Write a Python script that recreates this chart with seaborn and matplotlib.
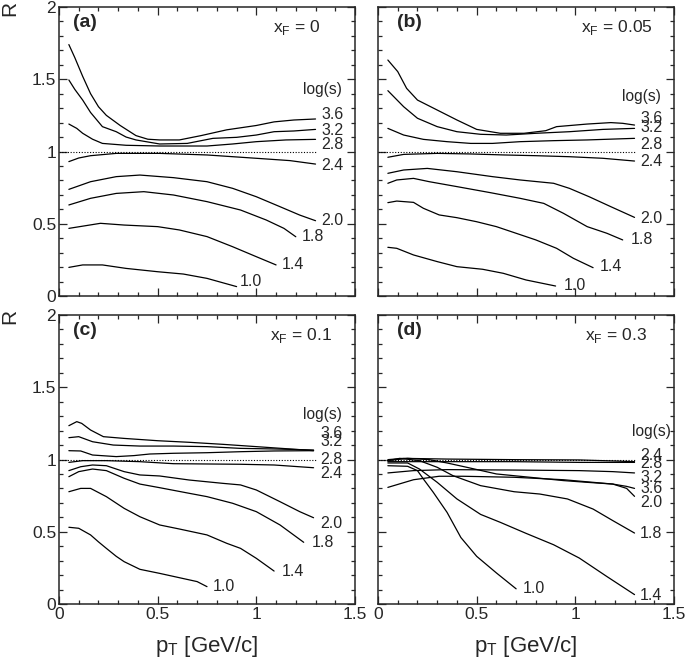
import numpy as np
import pandas as pd
import seaborn as sns
import matplotlib
matplotlib.use("Agg")
import matplotlib.pyplot as plt
from matplotlib.ticker import MultipleLocator, FuncFormatter

sns.set_theme(style="ticks")
plt.rcParams['font.family'] = ['Liberation Sans', 'DejaVu Sans']
plt.rcParams['mathtext.fontset'] = 'custom'
plt.rcParams['mathtext.rm'] = 'Liberation Sans'

# ratio R vs pT, one dict per panel: log(s) -> (pT, R)
curves_a = {
    "3.6": ([0.05, 0.08, 0.12, 0.16, 0.20, 0.24, 0.31, 0.39, 0.45, 0.51, 0.61, 0.72, 0.85, 1.0, 1.09, 1.19, 1.30],
            [1.74, 1.65, 1.52, 1.40, 1.31, 1.25, 1.18, 1.11, 1.085, 1.08, 1.08, 1.11, 1.15, 1.18, 1.205, 1.218, 1.225]),
    "3.2": ([0.05, 0.08, 0.12, 0.16, 0.22, 0.29, 0.34, 0.39, 0.51, 0.65, 0.78, 0.90, 1.0, 1.09, 1.19, 1.30],
            [1.495, 1.43, 1.356, 1.27, 1.172, 1.137, 1.10, 1.080, 1.052, 1.056, 1.091, 1.098, 1.114, 1.137, 1.142, 1.153]),
    "2.8": ([0.05, 0.09, 0.12, 0.17, 0.22, 0.34, 0.51, 0.75, 0.88, 1.0, 1.15, 1.30],
            [1.19, 1.16, 1.126, 1.085, 1.056, 1.043, 1.038, 1.038, 1.052, 1.068, 1.08, 1.084]),
    "2.4": ([0.05, 0.10, 0.16, 0.29, 0.51, 0.75, 1.0, 1.17, 1.30],
            [0.93, 0.955, 0.971, 0.987, 0.987, 0.976, 0.953, 0.937, 0.913]),
    "2.0": ([0.05, 0.16, 0.29, 0.41, 0.58, 0.75, 0.88, 1.0, 1.12, 1.22, 1.30],
            [0.738, 0.791, 0.826, 0.837, 0.819, 0.791, 0.745, 0.687, 0.618, 0.56, 0.521]),
    "1.8": ([0.05, 0.16, 0.29, 0.43, 0.58, 0.75, 0.92, 1.05, 1.14, 1.20],
            [0.63, 0.676, 0.71, 0.722, 0.699, 0.653, 0.595, 0.526, 0.468, 0.41]),
    "1.4": ([0.05, 0.21, 0.33, 0.50, 0.61, 0.75, 0.88, 1.0, 1.10],
            [0.468, 0.503, 0.491, 0.48, 0.457, 0.411, 0.341, 0.272, 0.215]),
    "1.0": ([0.05, 0.12, 0.22, 0.34, 0.50, 0.63, 0.75, 0.90],
            [0.198, 0.215, 0.215, 0.191, 0.168, 0.152, 0.122, 0.065]),
}
curves_b = {
    "3.6": ([0.05, 0.10, 0.145, 0.20, 0.30, 0.40, 0.50, 0.62, 0.74, 0.85, 0.905, 1.06, 1.18, 1.24, 1.30],
            [1.633, 1.553, 1.437, 1.356, 1.287, 1.218, 1.153, 1.126, 1.126, 1.144, 1.172, 1.19, 1.20, 1.195, 1.183]),
    "3.2": ([0.05, 0.13, 0.20, 0.30, 0.40, 0.52, 0.65, 0.80, 0.97, 1.14, 1.30],
            [1.421, 1.31, 1.23, 1.172, 1.137, 1.119, 1.114, 1.126, 1.137, 1.153, 1.16]),
    "2.8": ([0.05, 0.13, 0.23, 0.35, 0.47, 0.58, 0.72, 0.89, 1.06, 1.30],
            [1.16, 1.114, 1.084, 1.068, 1.056, 1.056, 1.068, 1.075, 1.08, 1.091]),
    "2.4": ([0.05, 0.13, 0.30, 0.47, 0.64, 0.80, 0.97, 1.14, 1.30],
            [0.96, 0.98, 0.987, 0.983, 0.976, 0.971, 0.964, 0.953, 0.934]),
    "2.0": ([0.05, 0.13, 0.25, 0.40, 0.58, 0.72, 0.89, 0.97, 1.07, 1.18, 1.30],
            [0.849, 0.872, 0.883, 0.86, 0.826, 0.803, 0.78, 0.745, 0.687, 0.618, 0.544]),
    "1.8": ([0.05, 0.095, 0.18, 0.26, 0.40, 0.57, 0.72, 0.84, 0.94, 1.06, 1.16, 1.24],
            [0.78, 0.803, 0.814, 0.791, 0.757, 0.715, 0.676, 0.641, 0.572, 0.48, 0.434, 0.388]),
    "1.4": ([0.05, 0.095, 0.18, 0.23, 0.31, 0.40, 0.50, 0.60, 0.70, 0.80, 0.905, 0.99, 1.09],
            [0.646, 0.657, 0.648, 0.607, 0.561, 0.542, 0.514, 0.48, 0.434, 0.388, 0.33, 0.261, 0.196]),
    "1.0": ([0.05, 0.095, 0.18, 0.30, 0.40, 0.53, 0.635, 0.75, 0.90],
            [0.337, 0.33, 0.284, 0.238, 0.203, 0.185, 0.157, 0.111, 0.069]),
}
curves_c = {
    "3.6": ([0.05, 0.09, 0.115, 0.16, 0.225, 0.33, 0.50, 0.66, 0.83, 1.0, 1.17, 1.29],
            [1.234, 1.262, 1.25, 1.204, 1.158, 1.146, 1.13, 1.119, 1.105, 1.089, 1.073, 1.061]),
    "3.2": ([0.05, 0.10, 0.17, 0.275, 0.41, 0.58, 0.75, 0.92, 1.09, 1.29],
            [1.151, 1.158, 1.123, 1.10, 1.093, 1.093, 1.089, 1.077, 1.073, 1.066]),
    "2.8": ([0.05, 0.11, 0.17, 0.29, 0.38, 0.46, 0.58, 0.75, 0.92, 1.09, 1.29],
            [1.061, 1.059, 1.031, 1.02, 1.027, 1.038, 1.043, 1.047, 1.054, 1.059, 1.061]),
    "2.4": ([0.05, 0.12, 0.24, 0.41, 0.58, 0.75, 0.92, 1.09, 1.29],
            [0.98, 0.992, 0.992, 0.985, 0.971, 0.969, 0.967, 0.962, 0.943]),
    "2.0": ([0.05, 0.11, 0.17, 0.24, 0.33, 0.41, 0.51, 0.66, 0.83, 0.92, 1.0, 1.12, 1.22, 1.29],
            [0.923, 0.95, 0.962, 0.957, 0.916, 0.893, 0.886, 0.858, 0.835, 0.824, 0.789, 0.708, 0.639, 0.597]),
    "1.8": ([0.05, 0.10, 0.17, 0.24, 0.33, 0.41, 0.51, 0.66, 0.75, 0.88, 1.0, 1.12, 1.24],
            [0.881, 0.916, 0.934, 0.923, 0.87, 0.83, 0.805, 0.766, 0.743, 0.697, 0.639, 0.547, 0.427]),
    "1.4": ([0.05, 0.11, 0.16, 0.24, 0.33, 0.41, 0.51, 0.61, 0.75, 0.85, 0.92, 1.0, 1.09],
            [0.777, 0.80, 0.80, 0.743, 0.662, 0.604, 0.547, 0.519, 0.478, 0.42, 0.385, 0.316, 0.228]),
    "1.0": ([0.05, 0.10, 0.16, 0.20, 0.24, 0.29, 0.33, 0.41, 0.51, 0.61, 0.70, 0.75],
            [0.531, 0.524, 0.478, 0.43, 0.385, 0.33, 0.293, 0.24, 0.212, 0.182, 0.155, 0.12]),
}
curves_d = {
    "2.4": ([0.05, 0.13, 0.35, 0.69, 1.02, 1.19, 1.30],
            [0.999, 1.008, 1.003, 0.999, 0.997, 0.99, 0.985]),
    "2.8": ([0.05, 0.26, 0.69, 1.02, 1.30],
            [0.985, 0.985, 0.985, 0.98, 0.98]),
    "3.2": ([0.05, 0.18, 0.35, 0.69, 1.02, 1.19, 1.30],
            [0.907, 0.923, 0.93, 0.927, 0.923, 0.916, 0.907]),
    "3.6": ([0.05, 0.18, 0.31, 0.43, 0.69, 0.94, 1.09, 1.19, 1.26, 1.30],
            [0.807, 0.86, 0.884, 0.884, 0.877, 0.86, 0.842, 0.83, 0.814, 0.80]),
    "2.0": ([0.05, 0.15, 0.26, 0.35, 0.45, 0.60, 0.77, 0.94, 1.06, 1.19, 1.26, 1.30],
            [0.992, 1.008, 0.999, 0.976, 0.946, 0.90, 0.877, 0.854, 0.842, 0.83, 0.80, 0.745]),
    "1.8": ([0.05, 0.11, 0.21, 0.30, 0.38, 0.52, 0.69, 0.82, 0.96, 1.09, 1.19, 1.30],
            [0.992, 1.008, 0.992, 0.946, 0.888, 0.819, 0.777, 0.761, 0.727, 0.657, 0.577, 0.491]),
    "1.4": ([0.05, 0.15, 0.21, 0.30, 0.40, 0.52, 0.62, 0.75, 0.89, 1.02, 1.16, 1.30],
            [0.976, 0.976, 0.934, 0.842, 0.727, 0.62, 0.565, 0.489, 0.41, 0.318, 0.19, 0.065]),
    "1.0": ([0.05, 0.15, 0.20, 0.23, 0.28, 0.35, 0.42, 0.50, 0.60, 0.70],
            [0.957, 0.953, 0.923, 0.865, 0.773, 0.634, 0.46, 0.33, 0.215, 0.105]),
}

# where the log(s) labels sit in each panel
labels_a = {"3.6": (1.33, 1.257), "3.2": (1.33, 1.144), "2.8": (1.33, 1.045), "2.4": (1.33, 0.902),
            "2.0": (1.33, 0.521), "1.8": (1.23, 0.41), "1.4": (1.128, 0.215), "1.0": (0.917, 0.099)}
labels_b = {"3.6": (1.33, 1.23), "3.2": (1.33, 1.167), "2.8": (1.33, 1.045), "2.4": (1.33, 0.93),
            "2.0": (1.33, 0.537), "1.8": (1.28, 0.388), "1.4": (1.125, 0.203), "1.0": (0.94, 0.076)}
labels_c = {"3.6": (1.323, 1.18), "3.2": (1.323, 1.123), "2.8": (1.323, 1.003), "2.4": (1.323, 0.904),
            "2.0": (1.323, 0.558), "1.8": (1.28, 0.427), "1.4": (1.128, 0.224), "1.0": (0.779, 0.12)}
labels_d = {"2.4": (1.328, 1.03), "2.8": (1.328, 0.969), "3.2": (1.328, 0.877), "3.6": (1.328, 0.796),
            "2.0": (1.328, 0.704), "1.8": (1.328, 0.487), "1.4": (1.328, 0.06), "1.0": (0.736, 0.106)}

panel_tags = ["(a)", "(b)", "(c)", "(d)"]
xf_text = ["0", "0.05", "0.1", "0.3"]
xf_pos = [1.086, 1.027, 1.069, 1.049]
logs_pos = [(1.434, 1.43), (1.434, 1.38), (1.432, 1.308), (1.484, 1.193)]

fig = plt.figure(figsize=(6.85, 6.65), dpi=100)
boxes = [(59, 369), (378, 369), (59, 61), (378, 61)]
W, H = 685, 665

fmt = FuncFormatter(lambda v, p: "%g" % v)

for i, (curves, labs) in enumerate(zip([curves_a, curves_b, curves_c, curves_d],
                                       [labels_a, labels_b, labels_c, labels_d])):
    x0, y0 = boxes[i]
    ax = fig.add_axes([x0 / W, y0 / H, 296 / W, 289 / H])

    rows = []
    for k, (xs, ys) in curves.items():
        for xv, yv in zip(xs, ys):
            rows.append((k, xv, yv))
    df = pd.DataFrame(rows, columns=["logs", "pt", "R"])
    sns.lineplot(data=df, x="pt", y="R", units="logs", estimator=None, sort=False,
                 color="black", linewidth=0.9, ax=ax)
    ax.hlines(1.0, 0, 1.3, colors="black", linestyles=(0, (1, 1.5)), linewidth=0.8)

    for k, (tx, ty) in labs.items():
        ax.text(tx, ty, k, fontsize=11.5, ha="left", va="center")
    lx, ly = logs_pos[i]
    ax.text(lx, ly, "log(s)", fontsize=11.2, ha="right", va="center")
    ax.text(0.07 if i % 2 == 0 else 0.095, 1.89, panel_tags[i], fontsize=14,
            fontweight="bold", ha="left", va="center")
    ax.text(xf_pos[i], 1.855, r"x$_\mathregular{F}$ = " + xf_text[i], fontsize=12.5,
            ha="left", va="center")

    ax.set_xlim(0, 1.5)
    ax.set_ylim(0, 2)
    ax.xaxis.set_major_locator(MultipleLocator(0.5))
    ax.xaxis.set_minor_locator(MultipleLocator(0.1))
    ax.yaxis.set_major_locator(MultipleLocator(0.5))
    ax.yaxis.set_minor_locator(MultipleLocator(0.1))
    ax.xaxis.set_major_formatter(fmt)
    ax.yaxis.set_major_formatter(fmt)
    ax.tick_params(which="both", direction="in", top=True, right=True, width=0.9,
                   labelsize=12.5, pad=2)
    ax.tick_params(which="major", length=6)
    ax.tick_params(which="minor", length=3)
    for s in ax.spines.values():
        s.set_linewidth(1.1)

    if i < 2:
        ax.tick_params(labelbottom=False)
        ax.set_xlabel("")
    else:
        ax.set_xlabel(r"p$_\mathregular{T}$ [GeV/c]", fontsize=16, labelpad=9)
    if i % 2 == 1:
        ax.tick_params(labelleft=False)
        ax.set_ylabel("")
    else:
        ax.set_ylabel("R", fontsize=15, loc="top")
        ax.yaxis.set_label_coords(-0.135, 1.02)

fig.savefig("out.png", dpi=100)
